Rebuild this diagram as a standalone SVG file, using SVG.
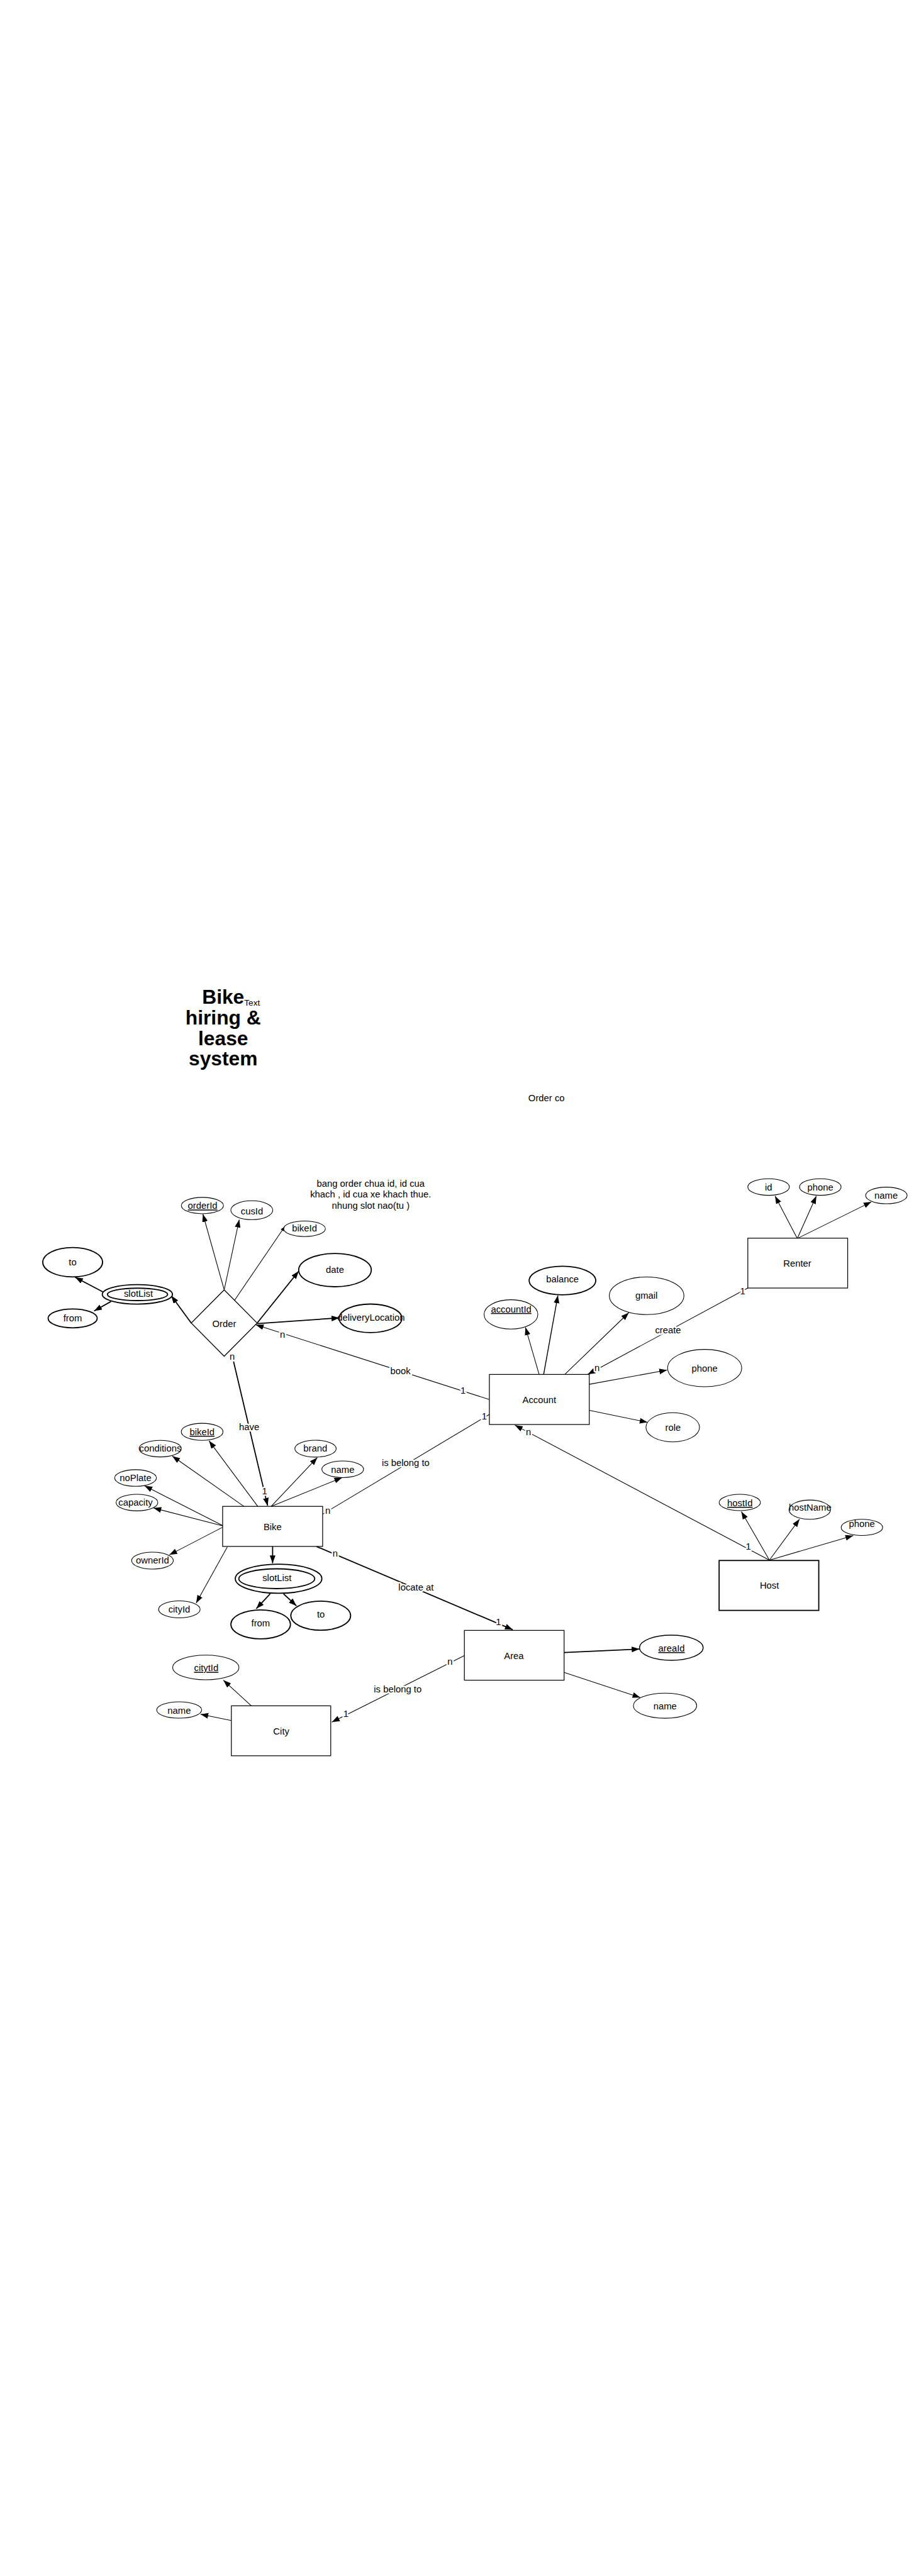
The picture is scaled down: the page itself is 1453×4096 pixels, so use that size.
<svg xmlns="http://www.w3.org/2000/svg" width="1453" height="4096" viewBox="0 0 1453 4096">
<style>
text{font-family:"Liberation Sans",Arial,sans-serif;font-size:18px;fill:#000}
.c{text-anchor:middle}
.u{text-decoration:underline}
.lbl{text-anchor:middle;paint-order:stroke;stroke:#fff;stroke-width:6px;stroke-linejoin:round}
.e{fill:#fff;stroke:#000;stroke-width:1.3}
.ek{fill:#fff;stroke:#000;stroke-width:2.2}
.r{fill:#fff;stroke:#000;stroke-width:1.5}
.l{stroke:#000;stroke-width:1.3;fill:none;marker-end:url(#a)}
.lk{stroke:#000;stroke-width:2.2;fill:none;marker-end:url(#a)}
.ln{stroke:#000;stroke-width:1.3;fill:none}
.title{font-weight:bold;font-size:38.5px;text-anchor:middle}
</style>
<defs>
<marker id="a" markerUnits="userSpaceOnUse" markerWidth="16" markerHeight="12" refX="15" refY="5.5" orient="auto"><path d="M0,0 L15,5.5 L0,11 z"/></marker>
<marker id="s" markerUnits="userSpaceOnUse" markerWidth="10" markerHeight="8" refX="9" refY="3.5" orient="auto"><path d="M0,0 L9,3.5 L0,7 z"/></marker>
</defs>
<rect width="1453" height="4096" fill="#fff"/>
<g transform="scale(0.825)">
<g id="title">
<text class="title" x="430" y="1934">Bike</text>
<text class="title" x="430" y="1974">hiring &amp;</text>
<text class="title" x="430" y="2014">lease</text>
<text class="title" x="430" y="2053">system</text>
<text x="470.7" y="1938" style="font-size:16.5px">Text</text>
</g>
<g id="notes">
<text x="1018" y="2123">Order co</text>
<text class="c" x="714.3" y="2286.7">bang order chua id, id cua</text>
<text class="c" x="714.3" y="2308.3">khach , id cua xe khach thue.</text>
<text class="c" x="714.3" y="2330">nhung slot nao(tu )</text>
</g>
<g id="connectors">
<path class="l" d="M432,2486 L391,2340"/>
<path class="l" d="M432,2486 L461,2350.7"/>
<path class="ln" d="M452,2506 L548.8,2364" marker-end="url(#s)"/>
<path class="lk" d="M495.5,2550 L575.6,2450"/>
<path class="lk" d="M495.5,2551 L653.8,2540"/>
<path class="lk" d="M368.5,2550 L330,2497.3"/>
<path class="lk" d="M198.4,2490 L144.8,2461.7"/>
<path class="lk" d="M214,2508.3 L181.4,2526.7"/>
<path class="l" d="M942.7,2697.3 L493,2553.3"/>
<path class="l" d="M1441,2482.5 L1132.6,2648.8"/>
<path class="lk" d="M450,2624 L515.7,2902"/>
<path class="ln" d="M621.7,2918.3 L943,2726"/>
<path class="l" d="M1482.6,3007 L992.2,2746.8"/>
<path class="lk" d="M610,2980.7 L988,3141"/>
<path class="l" d="M894.8,3191 L639.5,3319"/>
<path class="l" d="M1038.9,2649.3 L1012.5,2558.3"/>
<path class="l" style="stroke-width:1.7" d="M1047.5,2649.3 L1075,2496.7"/>
<path class="l" d="M1088,2649.2 L1211.6,2530"/>
<path class="l" d="M1135.5,2668 L1285.3,2640.7"/>
<path class="l" d="M1135.5,2718.3 L1247.6,2741.3"/>
<path class="l" d="M1536.3,2387 L1493.5,2305.2"/>
<path class="l" d="M1536.3,2387 L1573,2305.2"/>
<path class="l" d="M1536.3,2387 L1679,2316.5"/>
<path class="l" d="M1482.6,3007 L1428.6,2913.3"/>
<path class="l" d="M1482.6,3007 L1540.6,2928"/>
<path class="l" d="M1482.6,3007 L1644,2959.6"/>
<path class="l" d="M496.6,2903.2 L402.8,2777.1"/>
<path class="l" d="M469.8,2903.2 L332,2806.4"/>
<path class="l" d="M431.5,2941.4 L278.5,2863.6"/>
<path class="l" d="M431.5,2941.4 L295.7,2906.4"/>
<path class="l" d="M429.6,2943.2 L326.3,2996.8"/>
<path class="l" d="M438,2981.4 L378,3089.6"/>
<path class="l" d="M522.6,2903.2 L611.4,2809.3"/>
<path class="l" d="M522.6,2903.2 L659.2,2847.9"/>
<path class="lk" d="M525.3,2980.7 L525.3,3013"/>
<path class="lk" d="M520.7,3071.8 L493.9,3100.4"/>
<path class="lk" d="M546.3,3071.8 L571.2,3095"/>
<path class="lk" d="M1087,3185 L1232.3,3178.3"/>
<path class="l" d="M1087,3223.3 L1233.8,3271.7"/>
<path class="l" d="M484,3287.3 L430.4,3238.3"/>
<path class="l" d="M445.8,3316 L386.4,3304"/>
<text class="lbl" x="771.7" y="2648">book</text>
<text class="lbl" x="544.4" y="2578">n</text>
<text class="lbl" x="892.3" y="2686">1</text>
<text class="lbl" x="1287.3" y="2570">create</text>
<text class="lbl" x="1431" y="2494">1</text>
<text class="lbl" x="1150.6" y="2643">n</text>
<text class="lbl" x="480.1" y="2756.5">have</text>
<text class="lbl" x="510" y="2880">1</text>
<text class="lbl" x="447.5" y="2621">n</text>
<text class="lbl" x="781.7" y="2826">is belong to</text>
<text class="lbl" x="631.7" y="2918">n</text>
<text class="lbl" x="933.3" y="2735.5">1</text>
<text class="lbl" x="801.7" y="3065.5">locate at</text>
<text class="lbl" x="646" y="3000">n</text>
<text class="lbl" x="960.5" y="3132.5">1</text>
<text class="lbl" x="1442" y="2987">1</text>
<text class="lbl" x="1018.3" y="2766">n</text>
<text class="lbl" x="766.4" y="3262">is belong to</text>
<text class="lbl" x="867" y="3209">n</text>
<text class="lbl" x="666.6" y="3309">1</text>
</g>
<g id="order">
<polygon class="r" points="432,2486 495.5,2550 432,2614 368.5,2550"/>
<text class="c" x="432" y="2557">Order</text>
</g>
<g id="order-slotList">
<ellipse class="ek" cx="264.7" cy="2494.7" rx="67.6" ry="18.7"/>
<ellipse class="ek" cx="265" cy="2494.7" rx="58" ry="12"/>
<text class="c" x="266.7" y="2499">slotList</text>
</g>
<g id="order-to"><ellipse class="ek" cx="140" cy="2432.7" rx="57.6" ry="28.3"/><text class="c" x="140" y="2439">to</text></g>
<g id="order-from"><ellipse class="ek" cx="140" cy="2541" rx="47.3" ry="18.2"/><text class="c" x="140" y="2547">from</text></g>
<g id="order-orderId"><ellipse class="e" cx="390" cy="2323.5" rx="40.6" ry="15.8"/><text class="c u" x="390.4" y="2330">orderId</text></g>
<g id="order-cusId"><ellipse class="e" cx="485.2" cy="2332.5" rx="40.4" ry="18.2"/><text class="c" x="485.4" y="2340">cusId</text></g>
<g id="order-bikeId"><ellipse class="e" cx="586.8" cy="2368.3" rx="40.2" ry="15"/><text class="c" x="586.8" y="2373.5">bikeId</text></g>
<g id="order-date"><ellipse class="ek" cx="645.5" cy="2448" rx="70" ry="32"/><text class="c" x="645.5" y="2453">date</text></g>
<g id="order-deliveryLocation"><ellipse class="ek" cx="714" cy="2540.8" rx="60.4" ry="27.5"/><text class="c" x="715" y="2545">deliveryLocation</text></g>
<g id="account">
<rect class="r" x="943" y="2649" width="192.5" height="96.5"/>
<text class="c" x="1039.2" y="2704">Account</text>
</g>
<g id="account-accountId"><ellipse class="e" cx="984.6" cy="2533.3" rx="51.8" ry="28.3"/><text class="c u" x="985" y="2529.5">accountId</text></g>
<g id="account-balance"><ellipse class="ek" cx="1083.8" cy="2468" rx="64.2" ry="27.5"/><text class="c" x="1083.8" y="2472">balance</text></g>
<g id="account-gmail"><ellipse class="e" cx="1246" cy="2497.4" rx="71.9" ry="36.2"/><text class="c" x="1245.6" y="2503.5">gmail</text></g>
<g id="account-phone"><ellipse class="e" cx="1357.8" cy="2636.8" rx="71.4" ry="36"/><text class="c" x="1357.8" y="2644">phone</text></g>
<g id="account-role"><ellipse class="e" cx="1296.3" cy="2750.9" rx="51.6" ry="28.1"/><text class="c" x="1296.9" y="2757.5">role</text></g>
<g id="renter">
<rect class="r" x="1441" y="2386.4" width="192.4" height="96.1"/>
<text class="c" x="1536.3" y="2441">Renter</text>
</g>
<g id="renter-id"><ellipse class="e" cx="1481" cy="2287.8" rx="40" ry="16"/><text class="c" x="1481" y="2294">id</text></g>
<g id="renter-phone"><ellipse class="e" cx="1580.7" cy="2287.8" rx="40" ry="16"/><text class="c" x="1580.7" y="2294">phone</text></g>
<g id="renter-name"><ellipse class="e" cx="1708" cy="2304" rx="40" ry="16"/><text class="c" x="1707.4" y="2310.5">name</text></g>
<g id="host">
<rect class="r" style="stroke-width:2.2" x="1385.7" y="3007.6" width="192" height="96.2"/>
<text class="c" x="1482.6" y="3062">Host</text>
</g>
<g id="host-hostId"><ellipse class="e" cx="1425.5" cy="2895.8" rx="39.8" ry="15.7"/><text class="c u" x="1425.7" y="2903">hostId</text></g>
<g id="host-hostName"><ellipse class="e" cx="1560.3" cy="2909.6" rx="40" ry="18.5"/><text class="c" x="1561" y="2912">hostName</text></g>
<g id="host-phone"><ellipse class="e" cx="1660.8" cy="2943.8" rx="40" ry="15.7"/><text class="c" x="1660.8" y="2943.5">phone</text></g>
<g id="bike">
<rect class="r" x="429" y="2903.3" width="192.7" height="77.2"/>
<text class="c" x="525.3" y="2949">Bike</text>
</g>
<g id="bike-bikeId"><ellipse class="e" cx="389.5" cy="2759.6" rx="40.2" ry="16.4"/><text class="c u" x="389.4" y="2766">bikeId</text></g>
<g id="bike-conditions"><ellipse class="e" cx="308.7" cy="2792" rx="40.6" ry="16"/><text class="c" x="309" y="2798">conditions</text></g>
<g id="bike-noPlate"><ellipse class="e" cx="261.2" cy="2848.6" rx="40.2" ry="16"/><text class="c" x="261.2" y="2854">noPlate</text></g>
<g id="bike-capacity"><ellipse class="e" cx="263.9" cy="2896" rx="40.2" ry="16"/><text class="c" x="261.2" y="2902">capacity</text></g>
<g id="bike-ownerId"><ellipse class="e" cx="293.8" cy="3007.9" rx="40.2" ry="16.4"/><text class="c" x="293.8" y="3013.5">ownerId</text></g>
<g id="bike-cityId"><ellipse class="e" cx="345.6" cy="3101.8" rx="40" ry="16.4"/><text class="c" x="345.4" y="3107.5">cityId</text></g>
<g id="bike-brand"><ellipse class="e" cx="608" cy="2792" rx="39.8" ry="16.3"/><text class="c" x="607.6" y="2798">brand</text></g>
<g id="bike-name"><ellipse class="e" cx="660.4" cy="2831.8" rx="40.2" ry="16"/><text class="c" x="660.4" y="2838.5">name</text></g>
<g id="bike-slotList">
<ellipse class="ek" cx="536.8" cy="3042.7" rx="83.4" ry="28"/>
<ellipse class="ek" cx="533.3" cy="3042.7" rx="73.1" ry="19.1"/>
<text class="c" x="533.7" y="3047.5">slotList</text>
</g>
<g id="bike-from"><ellipse class="ek" cx="502.3" cy="3130.7" rx="57.4" ry="27.9"/><text class="c" x="502.3" y="3134">from</text></g>
<g id="bike-to"><ellipse class="ek" cx="618" cy="3114" rx="57.6" ry="28"/><text class="c" x="618.3" y="3118">to</text></g>
<g id="area">
<rect class="r" x="894.8" y="3142.3" width="192.2" height="96"/>
<text class="c" x="990.2" y="3197">Area</text>
</g>
<g id="area-areaId"><ellipse class="e" style="stroke-width:1.7" cx="1293.6" cy="3175.8" rx="61.3" ry="24.2"/><text class="c u" x="1294" y="3183">areaId</text></g>
<g id="area-name"><ellipse class="e" cx="1281.5" cy="3287.5" rx="61" ry="24.2"/><text class="c" x="1281.5" y="3294.5">name</text></g>
<g id="city">
<rect class="r" x="445.8" y="3287.7" width="191.5" height="96.3"/>
<text class="c" x="542" y="3343">City</text>
</g>
<g id="city-citytId"><ellipse class="e" cx="396.6" cy="3213.8" rx="63.8" ry="23.8"/><text class="c u" x="397.4" y="3221">citytId</text></g>
<g id="city-name"><ellipse class="e" cx="345.3" cy="3295.8" rx="43.3" ry="15.8"/><text class="c" x="345.3" y="3303">name</text></g>
</g>
</svg>
